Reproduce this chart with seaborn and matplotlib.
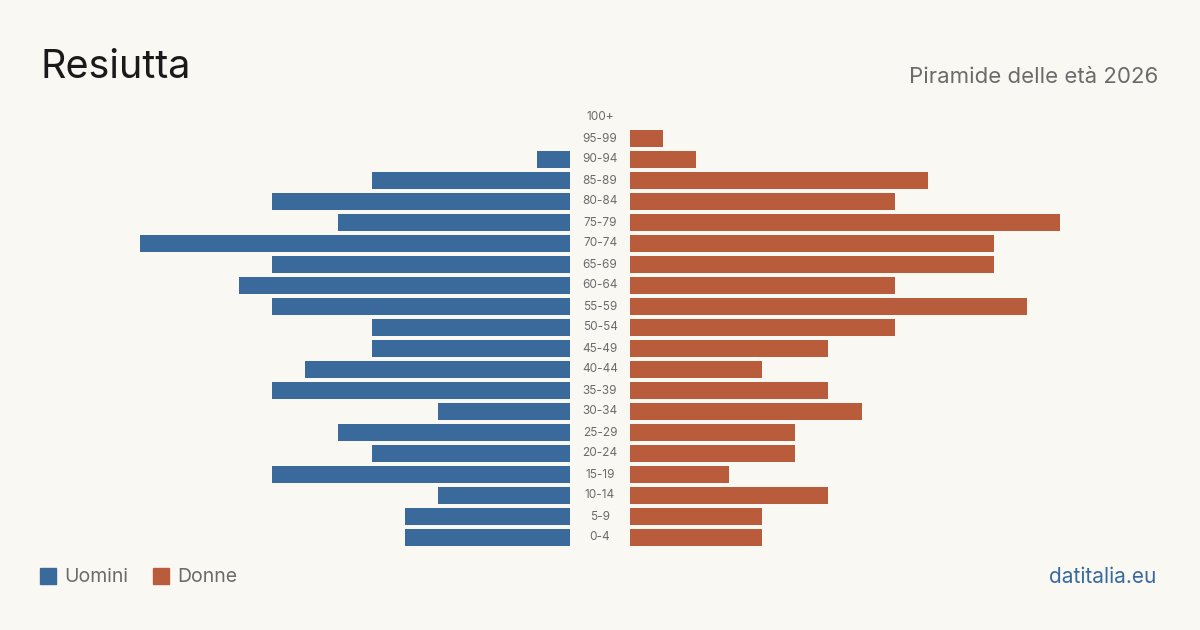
import numpy as np
import pandas as pd
import matplotlib
matplotlib.use("Agg")
import matplotlib.pyplot as plt
import seaborn as sns

ages = ["100+", "95-99", "90-94", "85-89", "80-84", "75-79", "70-74", "65-69",
        "60-64", "55-59", "50-54", "45-49", "40-44", "35-39", "30-34", "25-29",
        "20-24", "15-19", "10-14", "5-9", "0-4"]
uomini = [0, 0, 1, 6, 9, 7, 13, 9, 10, 9, 6, 6, 8, 9, 4, 7, 6, 9, 4, 5, 5]
donne = [0, 1, 2, 9, 8, 13, 11, 11, 8, 12, 8, 6, 4, 6, 7, 5, 5, 3, 6, 4, 4]

blue = "#3a6a9c"
orange = "#b95c3c"
bg = "#faf8f3"
grey = "#6b6b6b"

sns.set_theme(style="white")
plt.rcParams["font.family"] = ["Inter", "DejaVu Sans"]

df = pd.DataFrame({"eta": ages, "Uomini": uomini, "Donne": donne})
xmax = max(max(uomini), max(donne))

fig = plt.figure(figsize=(12, 6.3), dpi=100, facecolor=bg)
ax_l = fig.add_axes([140 / 1200, 1 - 548 / 630, 430 / 1200, 441 / 630])
ax_r = fig.add_axes([630 / 1200, 1 - 548 / 630, 430 / 1200, 441 / 630])

sns.barplot(data=df, y="eta", x="Uomini", order=ages, color=blue, width=0.8,
            saturation=1, linewidth=0, ax=ax_l)
sns.barplot(data=df, y="eta", x="Donne", order=ages, color=orange, width=0.8,
            saturation=1, linewidth=0, ax=ax_r)

ax_l.set_xlim(xmax, 0)
ax_r.set_xlim(0, xmax)
for ax in (ax_l, ax_r):
    ax.set_facecolor("none")
    ax.set_ylim(len(ages) - 0.5, -0.5)
    ax.set_xlabel("")
    ax.set_ylabel("")
    ax.set_xticks([])
    ax.set_yticks([])
    for s in ax.spines.values():
        s.set_visible(False)

# age labels in the gap between the two halves
for i, a in enumerate(ages):
    ax_r.text(-30 / 430 * xmax, i, a, ha="center", va="center",
              fontsize=8.5, color=grey, clip_on=False)

fig.text(40 / 1200, 1 - 67 / 630, "Resiutta", fontsize=28.5, color="#1a1a1a",
         ha="left", va="center")
fig.text(1158 / 1200, 1 - 77 / 630, "Piramide delle età 2026", fontsize=16,
         color=grey, ha="right", va="center")

# legend
fig.patches.append(plt.Rectangle((40 / 1200, 1 - 584 / 630), 16 / 1200, 16 / 630,
                                 transform=fig.transFigure, color=blue))
fig.text(64 / 1200, 1 - 577 / 630, "Uomini", fontsize=14, color=grey,
         ha="left", va="center")
fig.patches.append(plt.Rectangle((153 / 1200, 1 - 584 / 630), 16 / 1200, 16 / 630,
                                 transform=fig.transFigure, color=orange))
fig.text(177 / 1200, 1 - 577 / 630, "Donne", fontsize=14, color=grey,
         ha="left", va="center")

fig.text(1156 / 1200, 1 - 577 / 630, "datitalia.eu", fontsize=15, color=blue,
         ha="right", va="center")

fig.savefig("out.png", dpi=100, facecolor=bg)
